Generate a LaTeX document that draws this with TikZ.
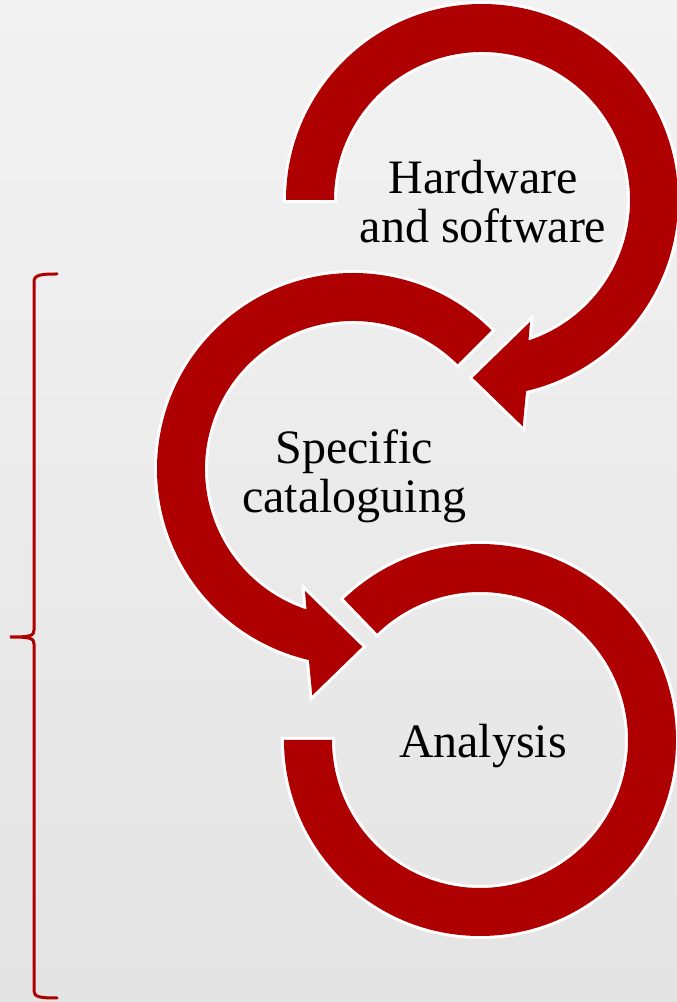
\documentclass[tikz,border=0pt]{standalone}
\usepackage{fontspec}
\setmainfont{Liberation Serif}
\definecolor{loopred}{RGB}{174,0,0}
\definecolor{papertop}{RGB}{242,242,242}
\definecolor{paperbot}{RGB}{228,228,228}
\tikzset {
    x=1pt, y=1pt,
    ring/.style={fill=loopred, preaction={draw=white, line width=6pt, line join=miter}},
    looptext/.style={inner sep=0pt, align=center, font=\fontsize{48}{49}\selectfont},
    bracket/.style={draw=loopred, line width=3pt, line cap=round}
}

\begin{document}
\begin{tikzpicture}
    \shade[top color=papertop, bottom color=paperbot] (0,0) rectangle (677,1002);
    \useasboundingbox (0,0) rectangle (677,1002);

    \coordinate (c1) at (482,802);
    \coordinate (c2) at (353,533);
    \coordinate (c3) at (480,262);

    % first loop, ends in an arrow at the bottom
    \fill[ring, shift={(c1)}] (180:196) arc[start angle=180, end angle=-77, radius=196]
        -- (-79.8:230) -- (-93:178) -- (-68.5:131) -- (-71.7:148)
        arc[start angle=-71.7, end angle=180, radius=148] -- cycle;

    % second loop, mirrored
    \fill[ring, shift={(c2)}] (45:196) arc[start angle=45, end angle=257, radius=196]
        -- (259.8:230) -- (273:178) -- (248.5:131) -- (251.7:148)
        arc[start angle=251.7, end angle=45, radius=148] -- cycle;

    % last loop, no arrow
    \fill[ring, shift={(c3)}] (180:196) arc[start angle=180, end angle=494, radius=196]
        -- (134:148) arc[start angle=134, end angle=-180, radius=148] -- cycle;

    \node[looptext] (hw) at (483,800) {Hardware\\and software};
    \node[looptext] (cat) at (354,526) {Specific\\cataloguing};
    \node[looptext] (ana) at (483,256) {Analysis};

    % brace on the left
    \draw[bracket] (57,728) .. controls (40,728) and (34,727) .. (34,720)
        -- (34,372) .. controls (34,366) and (30,365) .. (10,365)
        .. controls (30,365) and (34,364) .. (34,358)
        -- (34,11) .. controls (34,5) and (40,4) .. (57,4);
\end{tikzpicture}
\end{document}
